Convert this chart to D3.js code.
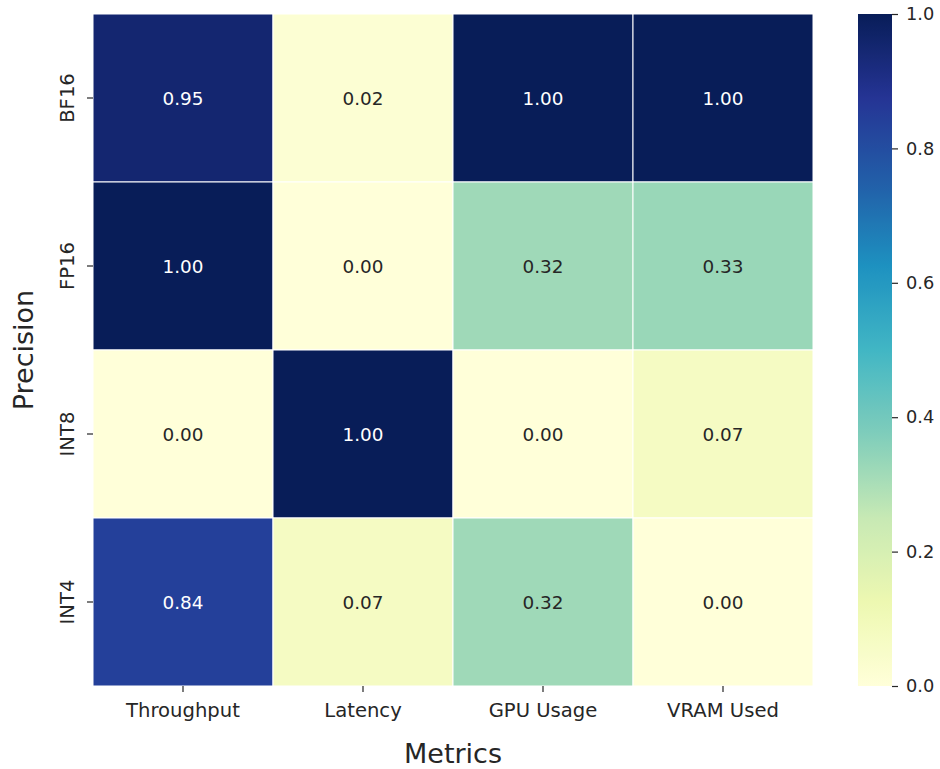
<!DOCTYPE html>
<html>
<head>
<meta charset="utf-8">
<script src="https://cdn.jsdelivr.net/npm/d3@7"></script>
<style>
  html, body { margin: 0; padding: 0; background: #fff; }
  svg { display: block; font-family: "DejaVu Sans", sans-serif; }
</style>
</head>
<body>
<svg id="chart" width="940" height="769"></svg>
<script>
// Normalised benchmark metrics per numeric precision
const metrics = ["Throughput", "Latency", "GPU Usage", "VRAM Used"];
const precisions = ["BF16", "FP16", "INT8", "INT4"];
const bf16 = [0.95, 0.02, 1.00, 1.00];
const fp16 = [1.00, 0.00, 0.32, 0.33];
const int8 = [0.00, 1.00, 0.00, 0.07];
const int4 = [0.84, 0.07, 0.32, 0.00];
const colorbarTicks = [0.0, 0.2, 0.4, 0.6, 0.8, 1.0];

const rows = [bf16, fp16, int8, int4];
const cells = [];
rows.forEach((vals, r) => vals.forEach((v, c) => cells.push({ row: precisions[r], col: metrics[c], value: v })));

// YlGnBu, piecewise-linear between the nine ColorBrewer stops
const stops = ["#ffffd9", "#edf8b1", "#c7e9b4", "#7fcdbb", "#41b6c4", "#1d91c0", "#225ea8", "#253494", "#081d58"];
const color = d3.scaleLinear()
  .domain(d3.range(stops.length).map(i => i / (stops.length - 1)))
  .range(stops)
  .interpolate(d3.interpolateRgb)
  .clamp(true);

const svg = d3.select("#chart");
const plotLeft = 93, plotTop = 14, plotRight = 813, plotBottom = 686;

const x = d3.scaleBand().domain(metrics).range([plotLeft, plotRight]).padding(0);
const y = d3.scaleBand().domain(precisions).range([plotTop, plotBottom]).padding(0);

// Cells
svg.append("g").selectAll("rect")
  .data(cells).join("rect")
  .attr("x", d => x(d.col))
  .attr("y", d => y(d.row))
  .attr("width", x.bandwidth())
  .attr("height", y.bandwidth())
  .attr("fill", d => color(d.value))
  .attr("stroke", "#ffffff")
  .attr("stroke-width", 1);

// Annotation text colour picked from cell luminance
function textColor(v) {
  const c = d3.rgb(color(v));
  const lin = ch => { ch /= 255; return ch <= 0.03928 ? ch / 12.92 : Math.pow((ch + 0.055) / 1.055, 2.4); };
  const lum = 0.2126 * lin(c.r) + 0.7152 * lin(c.g) + 0.0722 * lin(c.b);
  return lum > 0.408 ? "#262626" : "#ffffff";
}

svg.append("g").selectAll("text")
  .data(cells).join("text")
  .attr("x", d => x(d.col) + x.bandwidth() / 2)
  .attr("y", d => y(d.row) + y.bandwidth() / 2)
  .attr("text-anchor", "middle")
  .attr("dominant-baseline", "central")
  .attr("font-size", "18.4px")
  .attr("fill", d => textColor(d.value))
  .text(d => d.value.toFixed(2));

// X axis
const xAxis = svg.append("g")
  .attr("transform", `translate(0,${plotBottom})`)
  .call(d3.axisBottom(x).tickSize(6).tickPadding(11));
xAxis.select(".domain").remove();
xAxis.selectAll(".tick line").attr("stroke", "#262626").attr("stroke-width", 1.2);
xAxis.selectAll(".tick text")
  .attr("font-size", "19.6px")
  .attr("font-family", "DejaVu Sans, sans-serif")
  .attr("fill", "#262626");

// Y axis with vertical labels
const yAxis = svg.append("g")
  .attr("transform", `translate(${plotLeft},0)`)
  .call(d3.axisLeft(y).tickSize(6).tickFormat(""));
yAxis.select(".domain").remove();
yAxis.selectAll(".tick line").attr("stroke", "#262626").attr("stroke-width", 1.2);
yAxis.selectAll(".tick").append("text")
  .attr("transform", "translate(-19.5,0) rotate(-90)")
  .attr("text-anchor", "middle")
  .attr("font-size", "19.6px")
  .attr("font-family", "DejaVu Sans, sans-serif")
  .attr("fill", "#262626")
  .text(d => d);

// Axis titles
svg.append("text")
  .attr("x", (plotLeft + plotRight) / 2)
  .attr("y", 763)
  .attr("text-anchor", "middle")
  .attr("font-size", "27px")
  .attr("fill", "#262626")
  .text("Metrics");

svg.append("text")
  .attr("transform", `translate(33,${(plotTop + plotBottom) / 2}) rotate(-90)`)
  .attr("text-anchor", "middle")
  .attr("font-size", "27px")
  .attr("fill", "#262626")
  .text("Precision");

// Colour bar
const cbLeft = 858, cbWidth = 34;
const cbScale = d3.scaleLinear().domain([0, 1]).range([plotBottom, plotTop]);
const defs = svg.append("defs");
const grad = defs.append("linearGradient")
  .attr("id", "cbGrad")
  .attr("x1", 0).attr("y1", 1).attr("x2", 0).attr("y2", 0);
grad.selectAll("stop")
  .data(d3.range(0, 1.0001, 1 / 64))
  .join("stop")
  .attr("offset", d => d)
  .attr("stop-color", d => color(d));

svg.append("rect")
  .attr("x", cbLeft)
  .attr("y", plotTop)
  .attr("width", cbWidth)
  .attr("height", plotBottom - plotTop)
  .attr("fill", "url(#cbGrad)");

const cbAxis = svg.append("g")
  .attr("transform", `translate(${cbLeft + cbWidth},0)`)
  .call(d3.axisRight(cbScale).tickValues(colorbarTicks).tickFormat(d3.format(".1f")).tickSize(6).tickPadding(8));
cbAxis.select(".domain").remove();
cbAxis.selectAll(".tick line").attr("stroke", "#262626").attr("stroke-width", 1.2);
cbAxis.selectAll(".tick text")
  .attr("font-size", "17.8px")
  .attr("font-family", "DejaVu Sans, sans-serif")
  .attr("fill", "#262626");
</script>
</body>
</html>
